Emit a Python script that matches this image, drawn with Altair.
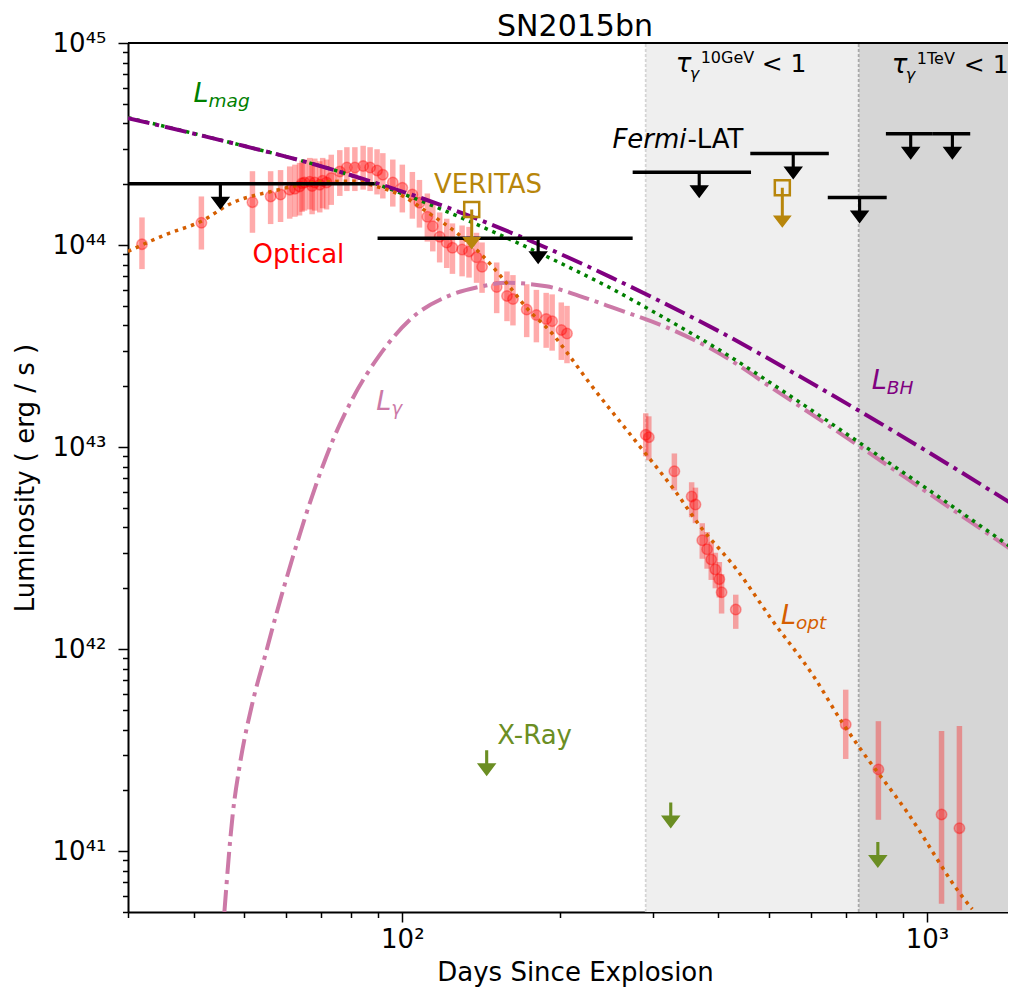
import altair as alt
import pandas as pd

FONT = "DejaVu Sans"
X_MIN, X_MAX = 30, 1427
Y_MIN, Y_MAX = 5e40, 1e45
TITLE = "SN2015bn"

# ---------------- model curves (days, erg/s) ----------------
bh_days = [30, 40, 50, 60, 75, 90, 110, 130, 160, 200, 250, 300, 400, 560, 740, 1000, 1478]
bh_lum = [4.25e44, 3.56e44, 3.09e44, 2.74e44, 2.33e44, 2.01e44, 1.69e44, 1.44e44, 1.16e44,
          9.04e43, 6.92e43, 5.5e43, 3.76e43, 2.31e43, 1.52e43, 9.53e42, 5.09e42]

mag_days = [30, 40, 50, 60, 75, 90, 110, 130, 160, 200, 250, 300, 400, 560, 740, 1000, 1478]
mag_lum = [4.27e44, 3.57e44, 3.09e44, 2.74e44, 2.33e44, 1.99e44, 1.63e44, 1.36e44, 1.07e44,
           8.15e43, 6.1e43, 4.7e43, 3.05e43, 1.73e43, 1.06e43, 6.22e42, 3.07e42]

gam_days = [45.8, 47.5, 49.0, 51.8, 54.7, 57.6, 61.8, 66.6, 73.7, 80.5, 90.5, 104.6, 121.5,
            140.4, 157.9, 188.2, 217.8, 252, 320, 394, 522.5, 727, 1000, 1478]
gam_lum = [5.0e40, 1.52e41, 2.67e41, 5.42e41, 9.18e41, 1.51e42, 2.84e42, 5.27e42, 1.08e43,
           1.75e43, 2.85e43, 4.39e43, 5.55e43, 6.21e43, 6.5e43, 6.25e43, 5.59e43, 4.9e43,
           3.9e43, 3.0e43, 1.86e43, 1.05e43, 5.98e42, 3.0e42]

optm_days = [30, 35.5, 41.1, 47.5, 56.7, 69.7, 80.5, 89.2, 98.8, 112.7, 125.8, 140.4, 157.9, 172.4,
             193.9, 208.4, 227.3, 280, 332.6, 369.5, 433.7, 505, 611, 688.6, 741, 916.6, 1177, 1220]
optm_lum = [9.3e43, 1.13e44, 1.30e44, 1.62e44, 1.85e44, 2.05e44, 2.07e44, 1.95e44, 1.78e44, 1.43e44,
            1.17e44, 9.15e43, 6.5e43, 4.9e43, 3.6e43, 2.82e43, 2.08e43, 1.05e43, 5.96e42, 4.06e42,
            2.48e42, 1.41e42, 7.2e41, 4.35e41, 3.3e41, 1.56e41, 5.8e40, 5.17e40]

# ---------------- optical data (luminosity in 1e43 erg/s) ----------------
opt_days = [31.9, 41.4, 51.8, 56.1, 58.6, 61.0, 63.7, 65.1, 66.6, 68.1,
            69.6, 71.7, 76.0, 78.4, 81.2, 84.2, 86.8, 89.5, 91.8, 95.9,
            100.0, 104.5, 107.8, 111.6, 114.3, 117.8, 121.5, 124.6, 130.0, 134.0,
            138.5, 141.9, 151.3, 158.3, 162.5, 172.6, 180.1, 188.0, 193.0, 200.9,
            206.0, 291, 295, 330, 356, 362, 373, 381, 388, 395,
            402, 406, 432, 700, 808, 1066, 1153,
            62.4, 64.4, 67.3, 70.5, 73.2]
opt_lum = [10.1, 12.9, 16.3, 17.4, 17.8, 18.8, 19.5, 20.4, 20.6, 20.4,
           19.9, 20.4, 23.1, 24.2, 24.2, 24.6, 24.2, 23.4, 22.3, 20.4,
           19.2, 17.8, 16.2, 13.8, 12.4, 11.0, 10.3, 9.7, 9.5, 9.3,
           8.7, 7.8, 6.2, 5.6, 5.4, 4.8, 4.5, 4.3, 4.2, 3.8,
           3.65, 1.15, 1.12, 0.759, 0.57, 0.52, 0.346, 0.312, 0.278, 0.248,
           0.222, 0.191, 0.157, 0.0424, 0.0254, 0.0152, 0.013,
           19.0, 20.2, 19.6, 20.8, 21.5]
opt_lo = [7.6, 9.5, 11.5, 12.7, 13.0, 13.5, 14.0, 14.8, 15.0, 14.8,
          14.5, 15.0, 17.5, 18.5, 18.5, 18.8, 18.5, 17.8, 17.0, 15.5,
          14.5, 13.5, 12.2, 10.4, 9.3, 8.2, 7.7, 7.2, 7.0, 6.9,
          6.5, 5.8, 4.6, 4.2, 4.0, 3.5, 3.3, 3.1, 3.0, 2.7,
          2.6, 0.90, 0.86, 0.61, 0.45, 0.42, 0.28, 0.25, 0.22, 0.20,
          0.18, 0.15, 0.126, 0.0286, 0.0143, 0.0055, 0.0051,
          13.8, 14.6, 14.2, 15.2, 15.8]
opt_hi = [13.7, 17.4, 23.2, 23.2, 23.5, 24.5, 25.5, 26.5, 27.0, 26.8,
          26.0, 26.5, 29.5, 30.5, 30.5, 31.0, 30.5, 29.8, 28.5, 26.5,
          25.0, 23.0, 21.0, 18.0, 16.2, 14.5, 13.5, 12.8, 12.5, 12.3,
          11.5, 10.3, 8.2, 7.4, 7.1, 6.4, 6.0, 5.8, 5.7, 5.2,
          5.0, 1.47, 1.42, 0.93, 0.67, 0.63, 0.42, 0.38, 0.34, 0.30,
          0.27, 0.235, 0.186, 0.063, 0.044, 0.0393, 0.0417,
          25.0, 26.2, 25.6, 27.0, 28.0]

# ---------------- upper limits ----------------
fermi_start = [30, 89.7, 274.8, 460.5, 647, 835, 1026]
fermi_end = [88.5, 274.8, 462, 650, 838, 1026, 1209]
fermi_lum = [2.01e44, 1.08e44, 2.29e44, 2.84e44, 1.72e44, 3.55e44, 3.55e44]
fermi_arrow_days = [45, 181.5, 368, 556, 744, 931, 1118]

veritas_days = [135.6, 530]
veritas_lum = [1.5e44, 1.92e44]

xray_days = [144.8, 324.8, 806]
xray_lum = [3.16e41, 1.74e41, 1.11e41]

# ---------------- shaded opacity regions ----------------
region_start = [291, 741]
region_end = [741, X_MAX]
region_fill = ["#efefef", "#d6d6d6"]
region_line = ["#d4d4d4", "#a9a9a9"]

# ---------------- annotation anchors (left, baseline) ----------------
ann_optical = (51.8, 8.19e43)
ann_veritas = (114.9, 1.81e44)
ann_xray = (151.7, 3.39e41)
ann_fermi = (251.4, 3.03e44)
ann_lmag = (40.0, 5.13e44)
ann_lbh = (785, 1.93e43)
ann_lgam = (89.2, 1.53e43)
ann_lopt = (527, 1.33e42)
ann_tau10 = (331.9, 7.21e44)
ann_tau1 = (857, 7.13e44)

# ---------------- axes ----------------
x_ticks = [30, 40, 50, 60, 70, 80, 90, 100, 200, 300, 400, 500, 600, 700, 800, 900, 1000]
y_ticks = sorted(set([m * b for b in [1e40, 1e41, 1e42, 1e43, 1e44] for m in range(1, 10)
                      if m * b >= Y_MIN] + [1e45]))
sup = {"0": "\u2070", "1": "\u00b9", "2": "\u00b2", "3": "\u00b3", "4": "\u2074", "5": "\u2075",
       "6": "\u2076", "7": "\u2077", "8": "\u2078", "9": "\u2079"}


def pow_label_expr(exps):
    s = ""
    for e in exps:
        lab = "10" + "".join(sup[c] for c in str(e))
        s += f"abs(datum.value / 1e{e} - 1) < 1e-6 ? '{lab}' : "
    return s + "''"


MAJOR_TEST = "abs(log(datum.value) / LN10 - round(log(datum.value) / LN10)) < 1e-6"

x_axis = alt.Axis(
    values=x_ticks, labelExpr=pow_label_expr([1, 2, 3, 4]),
    tickSize={"condition": {"test": MAJOR_TEST, "value": 10}, "value": 5.5},
    tickWidth=1.5, tickColor="black", domainColor="black", domainWidth=2,
    labelFont=FONT, labelFontSize=26, labelColor="black", labelPadding=4,
    labelFlush=False, labelOverlap=False, grid=False,
    titleFont=FONT, titleFontSize=26, titleFontWeight="normal", titleColor="black",
    titleBaseline="alphabetic", titleY=68, titleX=447, titleAlign="center",
)
y_axis = alt.Axis(
    values=y_ticks, labelExpr=pow_label_expr([41, 42, 43, 44, 45]),
    tickSize={"condition": {"test": MAJOR_TEST, "value": 10}, "value": 5.5},
    tickWidth=1.5, tickColor="black", domainColor="black", domainWidth=2,
    labelFont=FONT, labelFontSize=26, labelColor="black", labelPadding=12,
    labelFlush=False, labelOverlap=False, grid=False,
    titleFont=FONT, titleFontSize=26, titleFontWeight="normal", titleColor="black",
    titleBaseline="alphabetic", titleX=-95, titleY=434.5, titleAlign="center", titleAngle=270,
)

XSCALE = alt.Scale(type="log", domain=[X_MIN, X_MAX], nice=False)
YSCALE = alt.Scale(type="log", domain=[Y_MIN, Y_MAX], nice=False)


def X(f):
    return alt.X(f"{f}:Q", scale=XSCALE, axis=x_axis, title="Days Since Explosion")


def Y(f):
    return alt.Y(f"{f}:Q", scale=YSCALE, axis=y_axis, title="Luminosity ( erg / s )")


layers = []

# shaded regions
reg = pd.DataFrame({"x0": region_start, "x1": region_end, "y0": [Y_MIN] * 2, "y1": [Y_MAX] * 2,
                    "fill": region_fill, "line": region_line})
layers.append(alt.Chart(reg).mark_rect().encode(
    x=X("x0"), x2="x1", y=Y("y0"), y2="y1", color=alt.Color("fill:N", scale=None)))
layers.append(alt.Chart(reg).mark_rule(strokeWidth=1.8, strokeDash=[3, 2]).encode(
    x=X("x0"), y=Y("y0"), y2="y1", color=alt.Color("line:N", scale=None)))

# optical data
opt = pd.DataFrame({"d": opt_days, "L": [v * 1e43 for v in opt_lum],
                    "lo": [v * 1e43 for v in opt_lo], "hi": [v * 1e43 for v in opt_hi]})
layers.append(alt.Chart(opt).mark_rule(color="red", strokeWidth=5.5, opacity=0.33).encode(
    x=X("d"), y=Y("lo"), y2="hi"))
layers.append(alt.Chart(opt).mark_point(shape="circle", filled=True, size=110, fill="red",
                                        stroke="red", fillOpacity=0.33, strokeOpacity=0.35,
                                        strokeWidth=1.5, opacity=1).encode(x=X("d"), y=Y("L")))


def curve(days, lum, color, dash, width):
    df = pd.DataFrame({"d": days, "L": lum})
    return alt.Chart(df).mark_line(color=color, strokeWidth=width, strokeDash=dash,
                                   interpolate="monotone", clip=True).encode(x=X("d"), y=Y("L"))


DASHDOT = [22, 6, 4, 6]
DOT = [3.5, 5]
layers.append(curve(gam_days, gam_lum, "#cc79a7", DASHDOT, 4))
layers.append(curve(mag_days, mag_lum, "#008000", DOT, 3.5))
layers.append(curve(bh_days, bh_lum, "#800080", DASHDOT, 4))
layers.append(curve(optm_days, optm_lum, "#d55e00", DOT, 3.5))

# arrows
ARROW = "M-0.12,-1L0.12,-1L0.12,0.0L0.75,0.0L0,1L-0.75,0.0L-0.12,0.0Z"
VARROW = "M-0.075,-1L0.075,-1L0.075,0.38L0.47,0.38L0,1L-0.47,0.38L-0.075,0.38Z"

fermi = pd.DataFrame({"a": fermi_start, "b": fermi_end, "L": fermi_lum, "d": fermi_arrow_days})
layers.append(alt.Chart(fermi).mark_rule(color="black", strokeWidth=3.5).encode(
    x=X("a"), x2="b", y=Y("L")))
layers.append(alt.Chart(fermi).mark_point(shape=ARROW, size=676, filled=True, color="black",
                                          opacity=1, strokeWidth=0, yOffset=13).encode(
    x=X("d"), y=Y("L")))

ver = pd.DataFrame({"d": veritas_days, "L": veritas_lum})
layers.append(alt.Chart(ver).mark_point(shape=VARROW, size=1600, filled=True, color="#b8860b",
                                        opacity=1, strokeWidth=0, yOffset=20).encode(
    x=X("d"), y=Y("L")))
layers.append(alt.Chart(ver).mark_point(shape="square", size=225, filled=False, color="#b8860b",
                                        opacity=1, strokeWidth=2.5).encode(x=X("d"), y=Y("L")))

xr = pd.DataFrame({"d": xray_days, "L": xray_lum})
layers.append(alt.Chart(xr).mark_point(shape=ARROW, size=676, filled=True, color="#6b8e23",
                                       opacity=1, strokeWidth=0, yOffset=13).encode(
    x=X("d"), y=Y("L")))


def txt(anchor, text, color, size, italic=False, dx=0, dy=0):
    df = pd.DataFrame({"d": [anchor[0]], "L": [anchor[1]], "t": [text]})
    return alt.Chart(df).mark_text(align="left", baseline="alphabetic", font=FONT, fontSize=size,
                                   fontStyle="italic" if italic else "normal", color=color,
                                   dx=dx, dy=dy).encode(x=X("d"), y=Y("L"), text="t:N")


layers += [
    txt(ann_optical, "Optical", "red", 26),
    txt(ann_veritas, "VERITAS", "#b8860b", 26),
    txt(ann_xray, "X-Ray", "#6b8e23", 26),
    txt(ann_fermi, "Fermi", "black", 26, italic=True),
    txt(ann_fermi, "-LAT", "black", 26, dx=75),
    txt(ann_lmag, "L", "#008000", 27, italic=True),
    txt(ann_lmag, "mag", "#008000", 18.5, italic=True, dx=15, dy=5),
    txt(ann_lbh, "L", "#800080", 27, italic=True),
    txt(ann_lbh, "BH", "#800080", 18.5, italic=True, dx=15, dy=5),
    txt(ann_lgam, "L", "#cc79a7", 27, italic=True),
    txt(ann_lgam, "\u03b3", "#cc79a7", 18.5, italic=True, dx=15, dy=5),
    txt(ann_lopt, "L", "#d55e00", 27, italic=True),
    txt(ann_lopt, "opt", "#d55e00", 18.5, italic=True, dx=15, dy=5),
    txt(ann_tau10, "\u03c4", "black", 26, italic=True),
    txt(ann_tau10, "\u03b3", "black", 16, italic=True, dx=14, dy=7),
    txt(ann_tau10, "10GeV", "black", 16, dx=25, dy=-9),
    txt(ann_tau10, "< 1", "black", 25, dx=86),
    txt(ann_tau1, "\u03c4", "black", 26, italic=True),
    txt(ann_tau1, "\u03b3", "black", 16, italic=True, dx=14, dy=7),
    txt(ann_tau1, "1TeV", "black", 16, dx=25, dy=-9),
    txt(ann_tau1, "< 1", "black", 25, dx=72),
]

# top spine
spine = pd.DataFrame({"a": [X_MIN], "b": [X_MAX], "L": [Y_MAX]})
layers.append(alt.Chart(spine).mark_rule(color="black", strokeWidth=2).encode(
    x=X("a"), x2="b", y=Y("L")))

# chart title, centred over the axes
layers.append(alt.Chart(pd.DataFrame({"t": [TITLE]})).mark_text(
    align="center", baseline="alphabetic", font=FONT, fontSize=30, color="black").encode(
    x=alt.value(447), y=alt.value(-7), text="t:N"))

chart = alt.layer(*layers).properties(
    width=880, height=869,
    autosize=alt.AutoSizeParams(type="none"),
    padding={"left": 120, "top": 35, "right": 0, "bottom": 75},
).configure_view(strokeWidth=0).configure(background="white")

chart.save("out.html", embed_options={"renderer": "svg", "actions": False})
